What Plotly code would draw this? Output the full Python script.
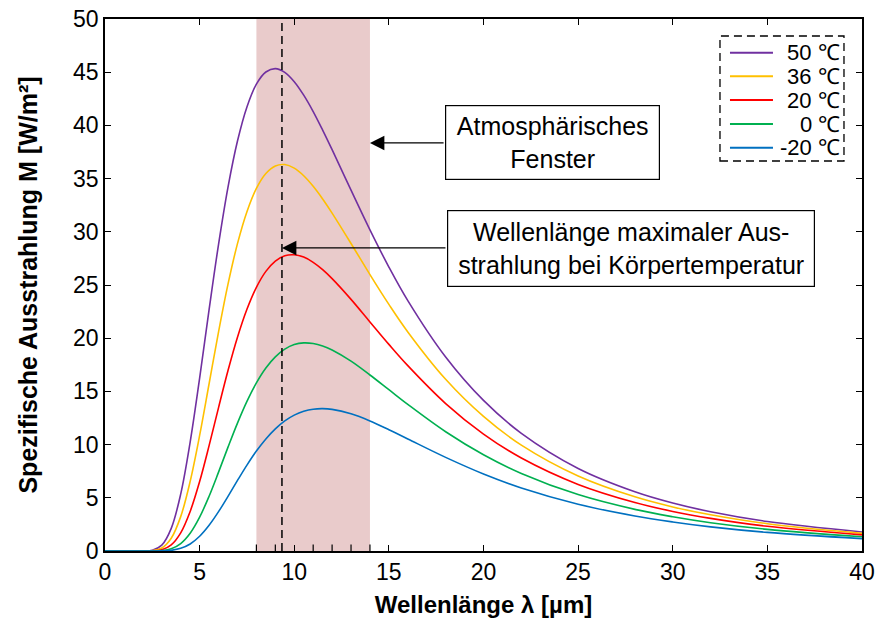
import plotly.graph_objects as go

# Spectral exitance of a black body, read per wavelength (µm) -> W/m² per µm
wavelength = [0, 1, 2, 2.5, 3, 3.5, 4, 4.5, 5, 5.5, 6, 6.5, 7, 7.5, 8, 8.5, 9, 9.5,
              10, 10.5, 11, 11.5, 12, 13, 14, 15, 16, 18, 20, 22, 25, 28, 30, 32, 35, 40]

m_50 = [0, 0, 0.003, 0.07, 0.55, 2.13, 5.35, 10.24, 16.25, 22.69, 28.82, 34.20, 38.53,
        41.74, 43.88, 45.02, 45.34, 44.99, 44.11, 42.84, 41.30, 39.56, 37.72, 33.91,
        30.18, 26.69, 23.53, 18.23, 14.15, 11.06, 7.76, 5.57, 4.51, 3.69, 2.77, 1.79]
m_36 = [0, 0, 0.001, 0.03, 0.28, 1.20, 3.23, 6.54, 10.86, 15.72, 20.60, 25.08, 28.89,
        31.89, 34.08, 35.48, 36.19, 36.32, 35.98, 35.27, 34.28, 33.09, 31.76, 28.90,
        25.98, 23.18, 20.59, 16.14, 12.65, 9.95, 7.05, 5.09, 4.14, 3.40, 2.56, 1.66]
m_20 = [0, 0, 0.0, 0.01, 0.12, 0.58, 1.71, 3.72, 6.53, 9.90, 13.48, 16.96, 20.09,
        22.72, 24.78, 26.28, 27.25, 27.75, 27.84, 27.62, 27.13, 26.44, 25.60, 23.65,
        21.53, 19.42, 17.42, 13.86, 10.99, 8.74, 6.26, 4.56, 3.72, 3.07, 2.32, 1.52]
m_0 = [0, 0, 0, 0.003, 0.04, 0.21, 0.70, 1.67, 3.18, 5.15, 7.41, 9.76, 12.02,
       14.06, 15.80, 17.20, 18.25, 18.97, 19.40, 19.56, 19.50, 19.27, 18.89, 17.84,
       16.54, 15.16, 13.78, 11.21, 9.05, 7.29, 5.30, 3.91, 3.22, 2.66, 2.03, 1.34]
m_m20 = [0, 0, 0, 0.0005, 0.01, 0.06, 0.25, 0.66, 1.39, 2.42, 3.70, 5.14, 6.63,
         8.07, 9.39, 10.53, 11.48, 12.23, 12.77, 13.13, 13.33, 13.38, 13.31, 12.89,
         12.22, 11.40, 10.53, 8.80, 7.24, 5.93, 4.40, 3.29, 2.73, 2.27, 1.75, 1.16]

series = [m_50, m_36, m_20, m_0, m_m20]
labels = ["50 ℃", "36 ℃", "20 ℃", "0 ℃", "-20 ℃"]
colors = ["#7030A0", "#FFC000", "#FF0000", "#00B050", "#0070C0"]

window_range = [8, 14]          # atmospheric window, µm
peak_body = 9.35                # Wien peak at body temperature, µm
window_ticks = [8, 9, 11, 12, 13, 14]

x_ticks = list(range(0, 41, 5))
y_ticks = list(range(0, 51, 5))

FONT = "Liberation Sans, Arial, Helvetica, sans-serif"

fig = go.Figure()

for vals, name, col in zip(series, labels, colors):
    fig.add_trace(go.Scatter(
        x=wavelength, y=vals, name=name, mode="lines",
        line=dict(color=col, width=1.6, shape="spline", smoothing=1.0),
        showlegend=False, hoverinfo="x+y+name",
    ))

# atmospheric window band
fig.add_shape(type="rect", xref="x", yref="paper",
              x0=window_range[0], x1=window_range[1], y0=0, y1=1,
              fillcolor="#E9CBCB", line=dict(width=0), layer="below")

# body-temperature peak wavelength
fig.add_shape(type="line", xref="x", yref="paper",
              x0=peak_body, x1=peak_body, y0=0, y1=1,
              line=dict(color="black", width=1.5, dash="8px,5px"))

# small ticks across the window on the bottom axis
for t in window_ticks:
    fig.add_shape(type="line", xref="x", yref="paper",
                  x0=t, x1=t, y0=0, y1=0.012,
                  line=dict(color="black", width=1.2))

# text boxes
fig.add_annotation(x=23.65, y=38.39, xref="x", yref="y",
                   text="Atmosphärisches<br>Fenster", showarrow=False,
                   font=dict(family=FONT, size=25, color="black"),
                   bgcolor="white", bordercolor="black", borderwidth=1.2,
                   borderpad=0, width=213, height=73, align="center")
fig.add_annotation(x=27.79, y=28.43, xref="x", yref="y",
                   text="Wellenlänge maximaler Aus-<br>strahlung bei Körpertemperatur",
                   showarrow=False,
                   font=dict(family=FONT, size=25, color="black"),
                   bgcolor="white", bordercolor="black", borderwidth=1.2,
                   borderpad=0, width=366, height=75, align="center")

# arrows pointing from the boxes
fig.add_annotation(x=window_range[1], y=38.35, ax=17.97, ay=38.35,
                   xref="x", yref="y", axref="x", ayref="y", text="",
                   showarrow=True, arrowhead=2, arrowsize=2.4, arrowwidth=1.2,
                   arrowcolor="black", standoff=0, startstandoff=0)
fig.add_annotation(x=peak_body, y=28.48, ax=18.07, ay=28.48,
                   xref="x", yref="y", axref="x", ayref="y", text="",
                   showarrow=True, arrowhead=2, arrowsize=2.4, arrowwidth=1.2,
                   arrowcolor="black", standoff=0, startstandoff=0)

# hand-drawn legend with a dashed frame and right-aligned labels
leg_x0, leg_x1 = 0.8124, 0.9762
leg_y0, leg_y1 = 0.7331, 0.968
line_x0, line_x1 = 0.8256, 0.8824
text_right = 0.9736
row_y = [0.9367, 0.8923, 0.8477, 0.8026, 0.7581]

fig.add_shape(type="rect", xref="paper", yref="paper",
              x0=leg_x0, x1=leg_x1, y0=leg_y0, y1=leg_y1,
              fillcolor="white", line=dict(color="black", width=1.3, dash="8px,5px"))
for name, col, ry in zip(labels, colors, row_y):
    fig.add_shape(type="line", xref="paper", yref="paper",
                  x0=line_x0, x1=line_x1, y0=ry, y1=ry,
                  line=dict(color=col, width=2))
    fig.add_annotation(x=text_right, y=ry, xref="paper", yref="paper",
                       text=name, showarrow=False, xanchor="right", yanchor="middle",
                       font=dict(family=FONT, size=22, color="black"))

axis_common = dict(
    showgrid=False, zeroline=False, showline=True, linecolor="black", linewidth=1.6,
    mirror="ticks", ticks="inside", ticklen=6, tickwidth=1.2, tickcolor="black",
    tickfont=dict(family=FONT, size=23, color="black"), automargin=False,
)

fig.update_xaxes(range=[0, 40], tickvals=x_ticks,
                 title=dict(text="<b>Wellenlänge λ [µm]</b>",
                            font=dict(family=FONT, size=24, color="black"), standoff=12),
                 **axis_common)
fig.update_yaxes(range=[0, 50], tickvals=y_ticks,
                 title=dict(text="<b>Spezifische Ausstrahlung M [W/m²]</b>",
                            font=dict(family=FONT, size=25, color="black"), standoff=28),
                 **axis_common)

fig.update_layout(
    width=877, height=619,
    margin=dict(l=105, r=15, t=19, b=68),
    paper_bgcolor="white", plot_bgcolor="white",
    font=dict(family=FONT, color="black"),
)

fig.write_html("out.html")
